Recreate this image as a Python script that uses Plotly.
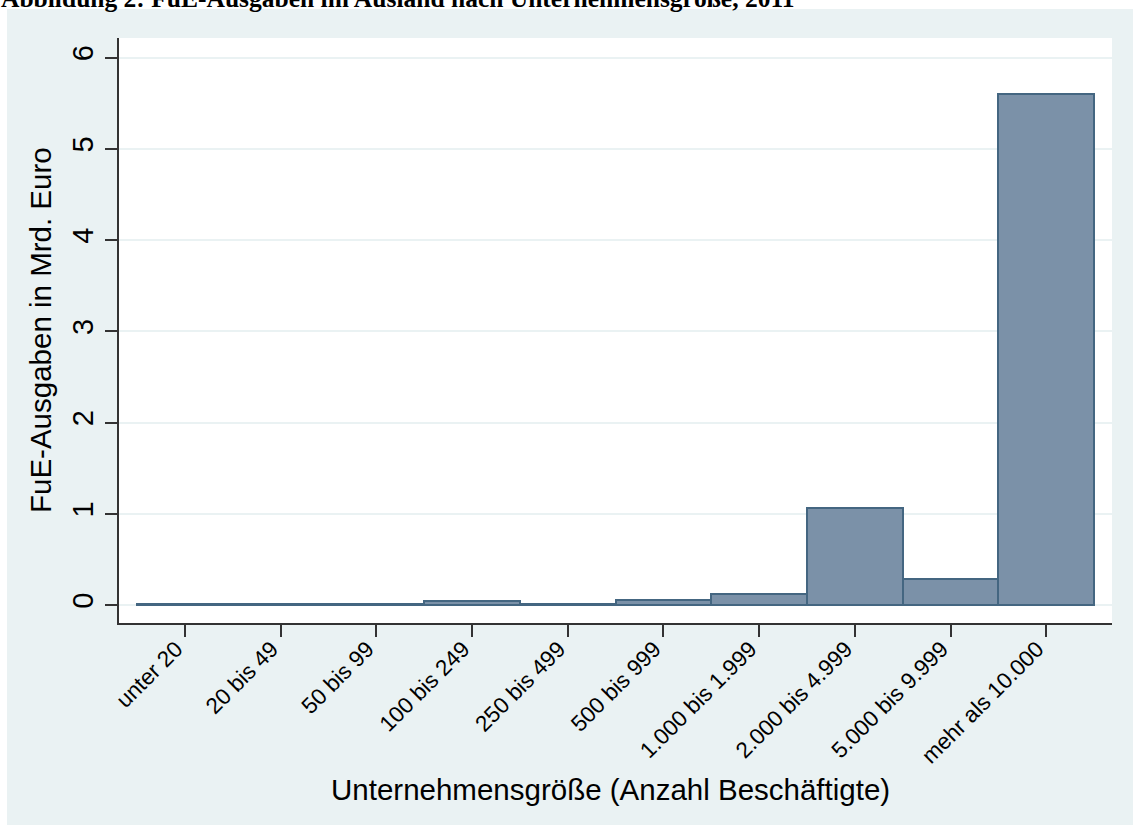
import plotly.graph_objects as go

categories = ["unter 20", "20 bis 49", "50 bis 99", "100 bis 249", "250 bis 499",
              "500 bis 999", "1.000 bis 1.999", "2.000 bis 4.999", "5.000 bis 9.999",
              "mehr als 10.000"]
values = [0.008, 0.006, 0.010, 0.040, 0.012, 0.055, 0.125, 1.065, 0.285, 5.60]
y_ticks = [0, 1, 2, 3, 4, 5, 6]

title_text = "Abbildung 2: FuE-Ausgaben im Ausland nach Unternehmensgröße, 2011"
x_title = "Unternehmensgröße (Anzahl Beschäftigte)"
y_title = "FuE-Ausgaben in Mrd. Euro"

W, H = 1133, 825
L, R, T, B = 119, 21, 38, 202
pw, ph = W - L - R, H - T - B

def px_x(p):
    return (p - L) / pw

def px_y(p):
    return (H - B - p) / ph

panel = "#EAF2F3"
axis_col = "#333333"

fig = go.Figure(go.Bar(
    x=list(range(len(categories))), y=values, width=1,
    marker=dict(color="#7B91A8", line=dict(color="#446681", width=2)),
))

fig.update_layout(
    width=W, height=H,
    margin=dict(l=L, r=R, t=T, b=B),
    paper_bgcolor="white", plot_bgcolor="rgba(0,0,0,0)",
    showlegend=False, bargap=0,
    shapes=[
        dict(type="rect", xref="paper", yref="paper", layer="below",
             x0=px_x(7), x1=px_x(W + 5), y0=px_y(H + 5), y1=px_y(9),
             fillcolor=panel, line=dict(width=0)),
        dict(type="rect", xref="paper", yref="paper", layer="below",
             x0=0, x1=1, y0=0, y1=1, fillcolor="white", line=dict(width=0)),
    ],
    annotations=[
        dict(text="<b>" + title_text + "</b>", xref="paper", yref="paper", x=px_x(-1), y=px_y(-2),
             xanchor="left", yanchor="middle", showarrow=False,
             font=dict(family="Liberation Serif", size=25.5, color="black")),
        dict(text=x_title, xref="paper", yref="paper", x=px_x(610), y=px_y(790),
             xanchor="center", yanchor="middle", showarrow=False,
             font=dict(family="Liberation Sans", size=29.5, color="black")),
        dict(text=y_title, xref="paper", yref="paper", x=px_x(40), y=px_y(330),
             xanchor="center", yanchor="middle", showarrow=False, textangle=-90,
             font=dict(family="Liberation Sans", size=29.5, color="black")),
    ],
)

fig.update_xaxes(
    range=[-0.69, 9.687], tickmode="array", tickvals=list(range(len(categories))),
    ticktext=categories, tickangle=-45, ticks="outside", ticklen=12, tickwidth=1.5,
    tickcolor=axis_col, showline=True, linecolor=axis_col, linewidth=2,
    showgrid=False, zeroline=False, ticklabelstandoff=-10, ticklabelshift=-9,
    tickfont=dict(family="Liberation Sans", size=22.5, color="black"),
)
fig.update_yaxes(
    range=[-0.197, 6.214], tickmode="array", tickvals=y_ticks,
    ticktext=[str(v) for v in y_ticks], tickangle=-90, ticks="outside", ticklen=12,
    tickwidth=1.5, tickcolor=axis_col, showline=True, linecolor=axis_col, linewidth=2,
    showgrid=True, gridcolor=panel, gridwidth=2, zeroline=False,
    tickfont=dict(family="Liberation Sans", size=29, color="black"),
)

fig.write_html("out.html", config={"displayModeBar": False},
               post_script="document.body.style.margin='0';")
